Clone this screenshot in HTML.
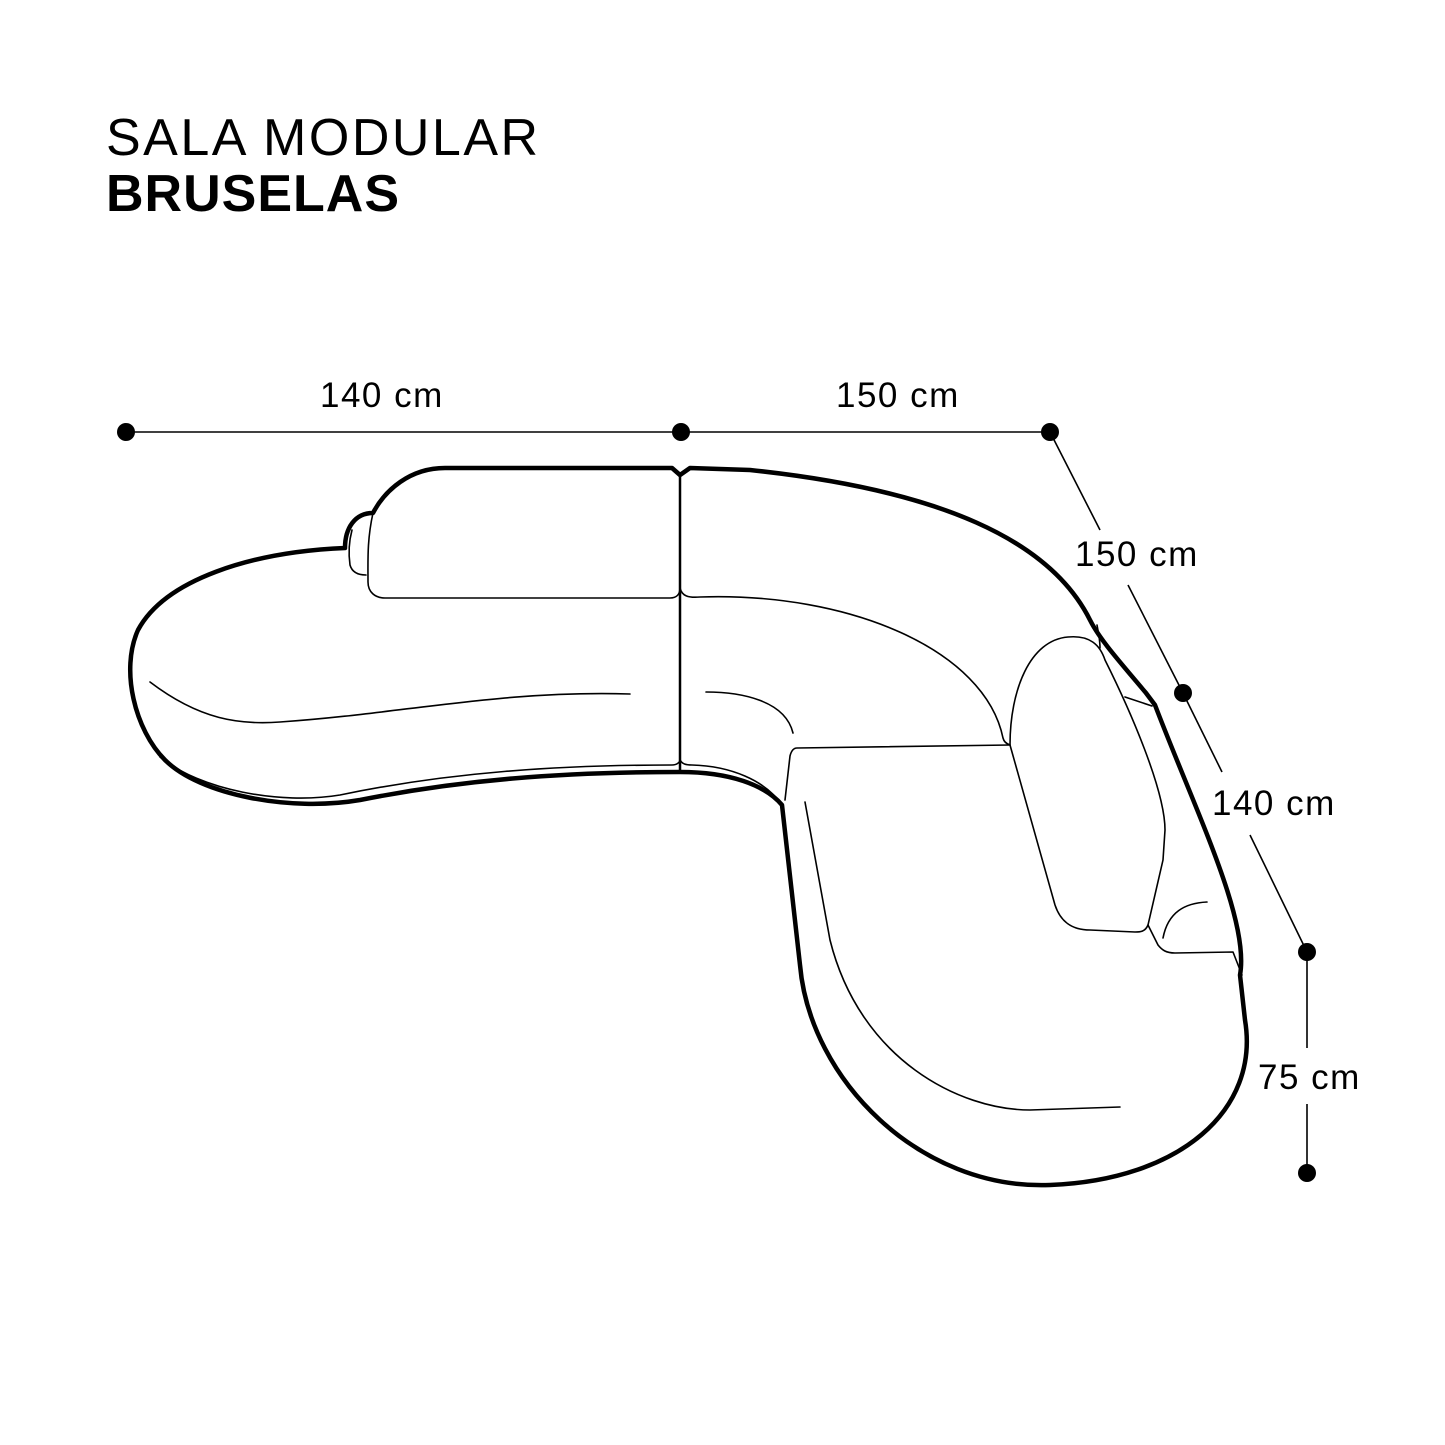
<!DOCTYPE html>
<html><head><style>
html,body{margin:0;padding:0;background:#fff;}
svg{display:block;}
text{font-family:"Liberation Sans",sans-serif;fill:#000;}
</style></head><body>
<svg width="1445" height="1445" viewBox="0 0 1445 1445" xmlns="http://www.w3.org/2000/svg">
<text x="106" y="155" font-size="52" font-weight="300" letter-spacing="2.5">SALA MODULAR</text>
<text x="106" y="211" font-size="52" font-weight="bold" letter-spacing="1">BRUSELAS</text>

<g stroke="#000" stroke-width="1.6" fill="none">
<line x1="126" y1="432" x2="1050" y2="432"/>
<line x1="1050" y1="432" x2="1100" y2="530"/>
<line x1="1128" y1="585" x2="1183" y2="693"/>
<line x1="1183" y1="693" x2="1222" y2="772"/>
<line x1="1250" y1="835" x2="1307" y2="952"/>
<line x1="1307" y1="952" x2="1307" y2="1048"/>
<line x1="1307" y1="1104" x2="1307" y2="1173"/>
</g>
<g fill="#000">
<circle cx="126" cy="432" r="9"/><circle cx="681" cy="432" r="9"/><circle cx="1050" cy="432" r="9"/>
<circle cx="1183" cy="693" r="9"/><circle cx="1307" cy="952" r="9"/><circle cx="1307" cy="1173" r="9"/>
</g>
<g font-size="35" letter-spacing="1.5">
<text x="320" y="407">140 cm</text>
<text x="836" y="407">150 cm</text>
<text x="1075" y="566">150 cm</text>
<text x="1212" y="815">140 cm</text>
<text x="1258" y="1089">75 cm</text>
</g>

<g stroke="#000" fill="none" stroke-linejoin="round" stroke-linecap="round">
<path stroke-width="4.5" d="M345 548 C250 552,165 580,138 630 C120 670,135 730,165 760 C200 795,290 812,360 800 C460 780,560 772,680 772 C730 772,765 785,782 805 L800 965 C810 1080,920 1190,1050 1185 C1180 1180,1260 1110,1245 1020 L1240 975 C1250 920,1195 810,1155 705 L1146 693 C1120 662,1100 640,1090 620 C1050 540,940 490,750 470 L690 468 L680 475 L672 468 L445 468 C410 468,385 490,373 513 C355 513,345 528,345 548 Z"/>
<path stroke-width="2.5" d="M680 475 L680 772"/>
<path stroke-width="1.6" d="M373 513 C367 540,368 560,368 582 C368 592,375 598,385 598 L670 598 C677 598,680 594,680 588"/>
<path stroke-width="1.6" d="M352 530 C348 545,349 558,350 565 C352 572,358 575,366 575"/>
<path stroke-width="1.6" d="M680 588 C682 596,688 598,700 597 C850 592,985 650,1003 738 C1004 742,1007 744,1010 745"/>
<path stroke-width="1.6" d="M1010 745 L797 748 C793 748,791 752,790 756 L785 800"/>
<path stroke-width="1.6" d="M160 757 C200 790,280 805,340 795 C450 772,560 765,672 765 C677 765,680 762,680 760"/>
<path stroke-width="1.6" d="M680 760 C682 764,686 765,692 765 C730 766,765 780,782 805"/>
<path stroke-width="1.6" d="M1010 745 C1010 690,1030 640,1068 637 C1090 635,1100 645,1105 660 C1130 710,1165 790,1165 830 L1163 860 L1148 925 C1145 932,1140 932,1135 932 L1090 930 C1070 930,1060 920,1055 905 Z"/>
<path stroke-width="1.6" d="M1148 925 L1158 945 C1162 950,1166 953,1175 953 L1233 952 L1242 975"/>
<path stroke-width="1.6" d="M1163 938 C1168 912,1185 903,1207 902"/>
<path stroke-width="1.6" d="M1125 697 L1152 706"/>
<path stroke-width="1.6" d="M1097 625 C1099 635,1100 642,1100 648"/>
<path stroke-width="1.6" d="M150 682 C200 720,240 725,280 722 C400 714,500 690,630 694"/>
<path stroke-width="1.6" d="M706 692 C740 692,785 700,793 733"/>
<path stroke-width="1.6" d="M805 802 L830 940 C860 1060,960 1110,1030 1110 L1120 1107"/>
</g>
</svg>
</body></html>
